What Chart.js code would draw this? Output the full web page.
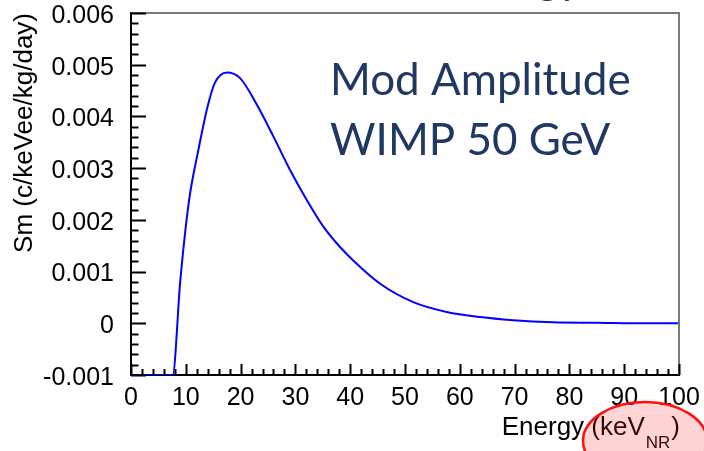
<!DOCTYPE html>
<html>
<head>
<meta charset="utf-8">
<script src="https://cdn.jsdelivr.net/npm/chart.js@4.4.0/dist/chart.umd.min.js"></script>
<style>
  html, body { margin: 0; padding: 0; background: #fff; }
  #wrap { width: 704px; height: 451px; position: relative; }
</style>
</head>
<body>
<div id="wrap"><canvas id="smChart"></canvas></div>
<script>
// energy (keVnr) and modulation amplitude
let energy = [0, 7.6, 9.0, 10.6, 12.2, 14.0, 15.3, 17.5, 19.9, 22.9, 26.0, 29.0, 32.1, 35.1, 38.1, 40.5, 45.4, 51.5, 57.6, 63.7, 69.7, 77, 85, 94.7, 100];
let sm = [-0.001, -0.001, 0.00083, 0.00238, 0.00330, 0.0042, 0.00465, 0.00485, 0.00474, 0.00424, 0.00361, 0.00297, 0.00238, 0.00187, 0.00148, 0.00122, 0.00077, 0.00041, 0.00022, 0.00012, 0.00006, 0.00002, 0.00001, 0.0, 0.0];

let xTicks = [0, 100, 10];          // min, max, step
let yTicks = [-0.001, 0.006, 0.001];
let noteLines = ['Mod Amplitude', 'WIMP 50 GeV'];
let yTitle = 'Sm (c/keVee/kg/day)';
let xTitle = ['Energy (keV', 'NR', ')'];
let slideTitle = 'Energy';

const axisFont = '"Liberation Sans", Arial, sans-serif';
const navy = '#1f3864';

// ROOT style frame: inward ticks, grey top/right, text notes
const rootFrame = {
    id: 'rootFrame',
    afterDraw(chart) {
        let ctx = chart.ctx;
        let a = chart.chartArea;
        let xs = chart.scales.x;
        let ys = chart.scales.y;
        ctx.save();

        // grey top and right frame
        ctx.strokeStyle = '#7a7a7a';
        ctx.lineWidth = 2;
        ctx.beginPath();
        ctx.moveTo(a.left, a.top);
        ctx.lineTo(a.right, a.top);
        ctx.lineTo(a.right, a.bottom);
        ctx.stroke();

        // inward tick marks
        ctx.strokeStyle = '#000';
        ctx.lineWidth = 2;
        ctx.beginPath();
        for (let i = 0; i <= 35; i++) {
            let v = yTicks[0] + i * yTicks[2] / 5;
            let py = Math.round(ys.getPixelForValue(v)) + 0.5;
            let len = i % 5 === 0 ? 15 : 7.5;
            ctx.moveTo(a.left, py);
            ctx.lineTo(a.left + len, py);
        }
        for (let i = 0; i <= 50; i++) {
            let v = xTicks[0] + i * xTicks[2] / 5;
            let px = Math.round(xs.getPixelForValue(v)) + 0.5;
            let len = i % 5 === 0 ? 11 : 6;
            ctx.moveTo(px, a.bottom);
            ctx.lineTo(px, a.bottom - len);
        }
        ctx.stroke();

        // x axis title with subscript
        ctx.fillStyle = '#000';
        ctx.textBaseline = 'alphabetic';
        ctx.textAlign = 'left';
        ctx.font = '26px ' + axisFont;
        let wClose = ctx.measureText(xTitle[2]).width;
        let wMain = ctx.measureText(xTitle[0]).width;
        ctx.font = '17px ' + axisFont;
        let wSub = ctx.measureText(xTitle[1]).width;
        let xEnd = 680;
        let x0 = xEnd - wClose - wSub - wMain - 2;
        ctx.font = '26px ' + axisFont;
        ctx.fillText(xTitle[0], x0, 435);
        ctx.fillText(xTitle[2], xEnd - wClose, 435);
        ctx.font = '17px ' + axisFont;
        ctx.fillText(xTitle[1], x0 + wMain + 1, 448);

        // red highlight ellipse on the unit
        ctx.beginPath();
        ctx.ellipse(645, 441, 62, 39, 0, 0, Math.PI * 2);
        ctx.fillStyle = 'rgba(255, 40, 40, 0.2)';
        ctx.fill();
        ctx.strokeStyle = '#ff1010';
        ctx.lineWidth = 2.5;
        ctx.stroke();

        // annotation text
        ctx.fillStyle = navy;
        ctx.font = '44px Lato, "Open Sans", sans-serif';
        ctx.fillText(noteLines[0], 330, 95);
        ctx.fillText(noteLines[1], 330, 155);

        // slide title, mostly off the top edge
        ctx.textAlign = 'right';
        ctx.font = '44px Lato, "Open Sans", sans-serif';
        ctx.fillText(slideTitle, 582, -7);

        ctx.restore();
    }
};

let points = energy.map((e, i) => ({ x: e, y: sm[i] }));

let ctx = document.getElementById('smChart').getContext('2d');
let smChart = new Chart(ctx, {
    type: 'line',
    data: {
        datasets: [{
            data: points,
            borderColor: '#0000ff',
            borderWidth: 2,
            pointRadius: 0,
            fill: false,
            cubicInterpolationMode: 'monotone'
        }]
    },
    options: {
        responsive: true,
        maintainAspectRatio: false,
        animation: false,
        events: [],
        layout: { padding: { top: 13, right: 25, left: 0, bottom: 0 } },
        plugins: { legend: { display: false }, tooltip: { enabled: false } },
        scales: {
            x: {
                type: 'linear',
                min: xTicks[0],
                max: xTicks[1],
                afterFit: s => {
                    s.height = 76;
                    s.paddingLeft = 0;
                    s.paddingRight = 0;
                },
                border: { display: true, color: '#000', width: 2 },
                grid: { display: false },
                ticks: {
                    stepSize: xTicks[2],
                    autoSkip: false,
                    maxRotation: 0,
                    padding: 0,
                    color: '#000',
                    font: { family: axisFont, size: 25 }
                }
            },
            y: {
                type: 'linear',
                min: yTicks[0],
                max: yTicks[1],
                afterFit: s => {
                    s.width = 131;
                    s.paddingTop = 0;
                    s.paddingBottom = 0;
                },
                border: { display: true, color: '#000', width: 2 },
                grid: { display: false },
                title: {
                    display: true,
                    text: yTitle,
                    align: 'end',
                    color: '#000',
                    padding: { top: 9, bottom: 0 },
                    font: { family: axisFont, size: 26 }
                },
                ticks: {
                    stepSize: yTicks[2],
                    padding: 9,
                    labelOffset: 3,
                    color: '#000',
                    font: { family: axisFont, size: 25 },
                    callback: v => Math.abs(v) < 1e-9 ? '0' : v.toFixed(3)
                }
            }
        }
    },
    plugins: [rootFrame]
});
</script>
</body>
</html>
